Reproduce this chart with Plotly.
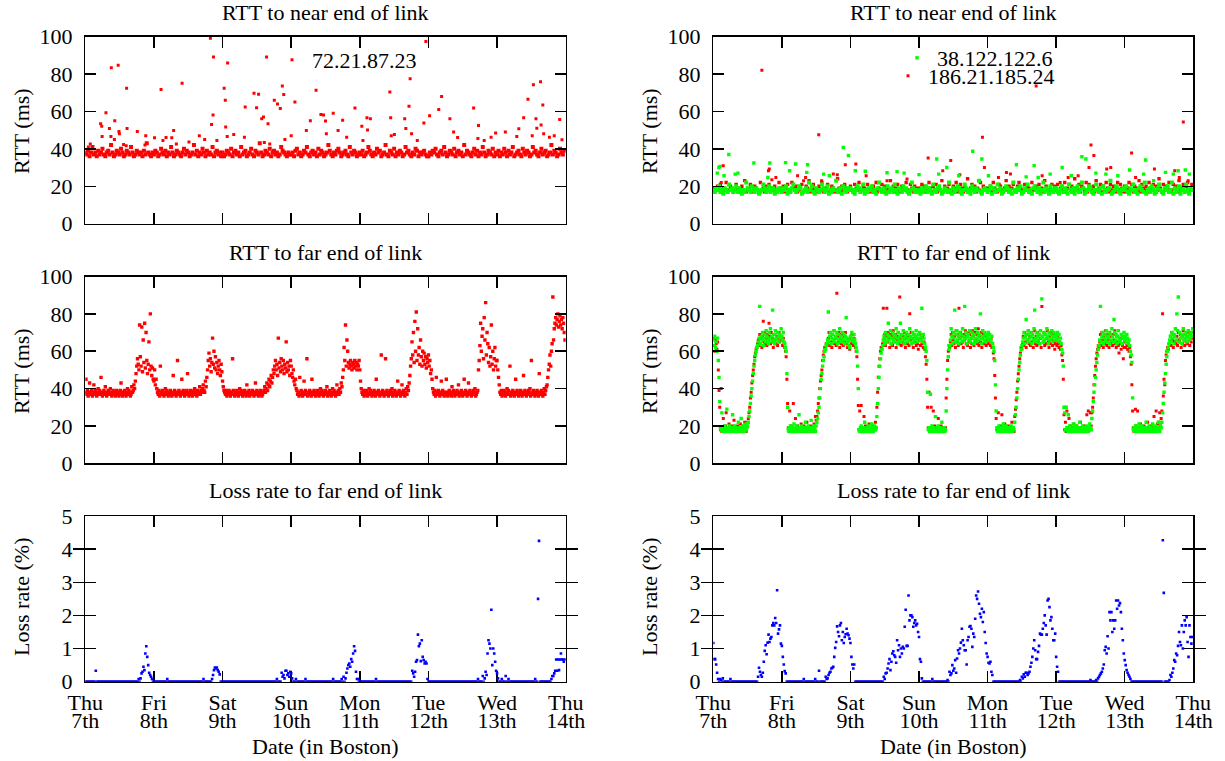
import plotly.graph_objects as go

W, H = 1225, 761
FONT = "Liberation Serif, Times New Roman, Times, serif"

# ------------------------------------------------------------------ data
DAY_TICKS_H = [0, 24, 48, 72, 96, 120, 144, 168]
DAY_NAMES = ["Thu", "Fri", "Sat", "Sun", "Mon", "Tue", "Wed", "Thu"]
DAY_DATES = ["7th", "8th", "9th", "10th", "11th", "12th", "13th", "14th"]

NEAR_STEP_H = 0.5      # sampling interval (hours) of the near-end RTT series
FAR_STEP_H = 0.25      # far-end RTT series
LOSS_STEP_H = 1 / 3    # loss-rate series

# RTT to near end, 72.21.87.23 (ms), one row per day
near_left_band = [
    [38,37,39,36,38,41,37,38,36,39,37,38,40,37,36,38,39,37,42,38,36,37,39,38,37,40,38,36,37,39,38,37,41,38,36,37,39,38,37,38,36,39,37,43,38,37,36,38],
    [37,39,38,36,37,40,38,37,39,36,38,37,41,38,36,37,39,38,37,36,38,40,37,39,38,36,37,38,42,37,39,36,38,37,40,38,36,39,37,38,37,41,36,38,39,37,38,36],
    [38,36,37,39,38,37,40,36,38,39,37,38,36,41,37,38,39,36,37,38,40,37,36,39,38,37,43,38,36,37,39,38,37,40,36,38,39,37,38,36,37,41,39,38,37,36,38,37],
    [37,38,36,39,40,37,38,36,37,39,38,41,37,36,38,39,37,38,36,40,37,39,38,36,37,38,42,39,37,36,38,37,39,40,38,36,37,38,39,37,36,41,38,37,39,38,36,37],
    [38,37,39,36,37,38,41,39,37,36,38,37,40,38,39,36,37,38,42,37,36,39,38,37,40,36,38,37,39,38,36,37,41,38,39,37,36,38,37,40,39,36,38,37,38,39,37,36],
    [36,38,37,39,38,40,37,36,38,39,37,41,38,36,37,39,38,37,40,36,38,39,37,38,36,42,37,39,38,37,36,38,40,37,39,36,38,37,41,38,36,37,39,38,37,40,36,38],
    [37,39,36,38,37,40,38,36,39,37,38,41,36,37,38,39,37,36,40,38,37,39,38,36,37,41,38,39,37,36,38,40,37,38,39,36,37,38,42,37,39,38,36,37,40,38,37,39],
]
# (hour, ms) isolated high samples
near_left_spikes = [
    (1.07,41),(1.74,42.6),(5.35,53.4),(5.75,52),(5.89,46.6),(7.22,59.3),(8.43,50.9),(9.10,83.3),(8.96,46.6),(10.30,55),
    (10.17,45),(11.5,84.6),(11.77,49.3),(11.91,48),(13.38,42.3),(14.45,72.4),(14.6,50.9),(14.3,41.6),(18.19,49.3),(21.14,47),
    (20.87,42),(24.21,45.9),(26.49,71.7),(27.16,44.4),(28.23,46),(30.23,45.9),(30.90,49.8),(31.84,42.6),(33.85,75),(36.25,43.7),
    (39.87,47),(41.74,45),(43.75,99),(44.15,53),(44.68,58),(44.82,89),(46.02,44.4),(48.56,72.4),(48.96,66),(49.10,51.6),
    (49.77,85.8),(49.63,46.6),(51.91,47.7),(55.92,62.4),(55.65,46.2),(59.0,69.7),(60.6,69.2),(59.9,62),(61.7,56),(62.3,57),
    (63.4,89),(63.9,53.4),(64.5,42.6),(62.6,43.4),(66.1,66),(67.2,64),(68.2,61.6),(68.9,73.5),(69.4,69),(69.8,45),
    (72.0,47),(73.3,65),(77.3,49.8),(78.7,55),(80.7,71.3),(82.4,58.4),(83.3,58),(84.0,54.8),(84.3,48),(86.7,59),
    (88.4,49.8),(90.0,55.2),(91.4,46.2),(94.3,61.8),(96.7,52),(98.5,56.6),(99.7,56),(98.7,50),(97.1,44.4),(106.5,70.4),
    (106.8,56.6),(107.0,47),(108.1,47.7),(111.7,56),(112.1,50.9),(113.2,62.7),(113.6,77.4),(114.1,48),(116.1,44.4),(118.4,53.8),
    (119.1,97.3),(120.4,57.7),(123.6,61),(124.6,68),(127.5,56),(128.8,49),(130.2,46),(135.8,61.8),(137.5,52.5),(137.3,45.5),
    (139.5,44.4),(141.9,46.2),(143.5,48.4),(146.9,49),(150.9,46.6),(151.6,50.7),(153.3,56.6),(154.8,66.5),(156.3,47),(156.7,74.2),
    (157.6,56),(157.9,51),(159.2,75.8),(160.0,63.4),(159.4,52.7),(160.3,48),(162.3,46.2),(164.0,47),(165.9,55.7),(166.7,44.8),
]

# RTT to near end, 38.122.122.6 (green)
near_right_green_band = [
    [18,17,19,18,20,17,18,16,19,18,17,21,18,19,17,18,20,17,19,18,16,18,17,22,19,18,17,20,18,17,19,18,16,17,18,21,19,17,18,20,17,18,19,16,18,17,19,18],
    [17,19,18,20,16,18,17,19,21,18,17,18,20,19,16,17,18,19,17,22,18,20,17,16,19,18,17,18,21,19,17,18,20,16,18,17,19,18,23,17,18,19,16,20,18,17,19,18],
    [19,18,17,16,18,20,19,17,18,21,16,18,17,19,18,20,17,18,16,19,22,18,17,19,18,16,20,17,18,19,17,21,18,16,19,18,17,20,18,19,17,16,18,22,19,17,18,17],
    [18,16,19,17,18,20,17,19,18,16,21,18,17,19,20,18,16,17,19,18,17,22,18,16,19,17,18,20,19,17,16,18,21,19,17,18,16,20,18,17,19,18,23,17,16,18,19,18],
    [17,18,20,16,19,18,17,21,18,19,16,17,18,20,19,17,18,16,22,18,17,19,18,20,16,17,19,18,21,17,18,16,19,20,18,17,19,16,18,22,17,19,18,16,20,18,17,19],
    [19,17,16,18,20,17,19,18,16,21,18,17,19,16,18,20,17,18,22,19,16,17,18,20,19,17,16,18,21,18,17,19,16,20,18,17,18,19,23,16,17,18,20,19,17,16,18,19],
    [18,20,17,16,19,18,21,17,18,16,19,20,18,17,22,16,18,19,17,20,18,16,17,19,21,18,17,16,19,18,20,17,18,22,16,19,17,18,20,16,18,19,17,21,18,16,19,18],
]
near_right_green_spikes = [
    (1.39,27),(1.95,30),(2.37,30.6),(3.76,25.6),(5.43,37),(7.66,26.5),(8.63,27),(14.2,32.4),(19.1,24.7),(19.8,32.4),
    (25.3,32.6),(26.7,28.3),(28.8,31.9),(33.0,31.5),(32.7,27.4),(38.6,26.5),(40.6,25.6),(45.5,40.7),(47.3,36.4),(49.7,28.3),
    (53.2,28),(60.8,27.2),(64.3,27.8),(66.8,27),(72.0,26.2),(78.2,34.6),(78.9,26.5),(81.7,30),(85.9,25.6),(90.8,38.7),
    (94.0,34.6),(96.3,25.6),(106.1,31.5),(109.5,25),(112.3,31),(113.7,24.7),(117.9,26.5),(122.1,30),(125.3,25.6),(129.0,35.8),
    (130.4,34.6),(133.9,27),(137.4,26.5),(141.6,25.6),(145.7,28.7),(150.6,26.5),(151.3,34),(154.1,23),(158.3,27.4),(161.0,26.5),
    (162.7,28.3),(165.2,28.7),(166.6,26.5),
]

# RTT to near end, 186.21.185.24 (red)
near_right_red_band = [
    [19,17,18,20,18,21,17,19,18,22,17,18,20,19,17,18,21,18,17,19,20,18,23,17,18,19,21,17,18,20,19,18,17,22,18,19,17,20,18,21,17,19,18,20,17,18,22,19],
    [18,20,17,19,21,18,17,22,19,18,20,17,18,19,21,17,18,20,19,23,17,18,21,19,18,17,20,18,22,17,19,18,21,17,18,20,19,17,18,24,19,17,20,18,21,19,17,18],
    [20,18,17,21,19,18,22,17,18,20,19,17,21,18,17,19,20,18,22,17,19,18,21,17,20,18,19,17,23,18,20,17,19,21,18,17,20,19,18,22,17,18,21,19,17,20,18,19],
    [17,19,21,18,20,17,18,22,19,17,20,18,21,17,19,18,23,17,20,18,19,21,17,18,20,19,22,17,18,21,19,17,20,18,24,17,19,21,18,20,17,19,18,22,17,20,19,18],
    [19,18,20,17,22,19,18,17,21,20,18,17,19,23,18,20,17,19,21,18,17,20,22,19,18,17,21,18,20,19,17,22,18,19,20,17,21,18,19,17,23,20,18,17,19,21,18,20],
    [18,21,17,19,20,18,22,17,19,21,18,20,17,24,19,18,21,17,20,19,18,22,17,21,19,18,20,17,23,18,19,21,17,20,18,22,19,17,21,18,20,19,17,22,18,21,19,17],
    [20,17,19,22,18,21,17,20,19,18,23,17,21,19,18,20,17,22,19,18,21,17,20,18,24,19,17,21,18,20,19,22,17,18,21,19,20,17,23,18,19,21,17,20,22,18,19,21],
]
near_right_red_spikes = [
    (2.78,22),(3.48,31),(17.0,82),(19.3,28.3),(19.6,29.2),(20.5,23.5),(21.9,24.7),(29.5,25.6),(31.6,23),(32.3,24.7),
    (36.9,47.5),(37.9,23),(42.0,26.5),(43.4,26.2),(46.2,31.5),(49.9,31.9),(53.5,25.6),(60.8,23),(67.8,23.9),(75.2,35.1),
    (80.3,28.3),(83.1,33.7),(86.3,26.2),(94.2,46.2),(94.9,30),(99.8,24.7),(102.6,27.4),(104.0,26.5),(113.0,73.5),(115.1,25.6),
    (121.4,22),(124.2,24.7),(127.7,25.6),(131.5,30),(132.2,42),(133.2,36.4),(137.7,29.2),(139.1,30),(146.4,37.8),(147.8,24.7),
    (154.4,29.2),(161.5,28.3),(163.1,24.7),(164.5,54.3),(166.2,23),
]

# RTT to far end, 72.21.87.23 (ms), 15-minute samples, one row per day
far_left = [
    [38,45,37,39,36,38,43,37,38,39,36,37,42,38,39,37,36,38,40,37,39,38,46,37,36,38,39,37,41,38,36,37,39,38,37,40,38,36,37,39,38,37,36,38,39,37,38,36,37,39,43,38,36,37,38,39,37,36,38,40,37,39,38,36,37,41,38,39,42,40,44,
     48,52,56,53,50,74,57,52,73,49,66,54,75,51,70,55,48,53,65,50,80,52,47,51,45],
    [44,50,42,45,40,
     38,37,39,36,52,38,37,39,38,36,37,40,38,39,37,36,38,37,39,38,36,37,47,38,39,37,36,38,55,37,39,38,36,37,45,38,39,37,36,38,37,39,48,38,36,37,39,38,37,36,38,39,40,37,38,36,39,37,38,41,37,39,38,40,42,39,38,44,41,
     46,50,55,59,52,56,49,54,67,53,60,51,57,50,54,48,52,55,50,47,53,49],
    [44,41,39,38,
     37,39,36,38,37,39,38,36,37,38,56,39,37,36,38,37,39,38,36,37,40,38,39,37,36,38,37,39,38,36,42,37,38,39,36,37,38,37,39,38,36,37,43,38,39,37,36,38,37,39,38,36,37,38,
     39,41,38,40,43,39,42,45,41,44,47,43,46,50,
     48,52,55,50,53,47,67,51,54,49,56,52,50,55,48,53,51,65,49,54,50,52,47,55],
    [52,48,46,50,44,42,45,40,
     39,37,38,36,46,37,39,38,36,37,44,38,39,37,56,36,38,37,39,38,36,45,37,38,39,37,36,38,37,39,38,36,37,40,38,39,37,36,38,37,39,38,41,36,37,38,39,37,36,38,40,37,39,38,36,37,42,38,39,37,40,38,43,41,
     46,50,62,55,74,52,66,60,54,51,53,55,52,50,54,53,51,55,52,54,50,53,52,55],
    [50,44,40,
     38,37,39,36,38,37,39,38,36,37,40,38,39,37,36,38,37,39,38,36,45,37,38,39,37,36,38,58,37,39,38,36,37,56,38,39,37,36,38,37,39,38,40,36,37,38,39,37,36,38,44,37,39,38,36,37,42,38,39,37,36,38,40,37,41,39,43,
     47,52,56,65,58,70,54,76,60,81,55,72,58,62,53,66,57,52,60,55,59,53,57,51,56,54],
    [58,52,55,48,50,45,
     40,38,37,39,36,46,38,37,39,38,36,37,44,38,39,37,36,38,37,45,38,36,37,39,38,37,36,41,38,39,37,36,38,37,39,38,42,36,37,38,39,37,36,38,45,37,39,38,36,37,43,38,39,37,36,38,37,39,38,40,36,37,38,39,
     50,55,63,75,60,68,72,56,78,66,86,58,70,64,54,62,52,57,74,53,60,50,56,62,52,55],
    [55,50,46,42,
     38,37,39,36,38,37,39,38,36,37,40,38,39,37,52,36,38,37,39,38,36,37,45,38,39,37,36,38,37,39,38,36,37,47,38,39,37,36,38,37,39,38,40,36,55,37,38,39,37,36,38,37,39,38,36,48,37,38,39,37,36,38,40,37,39,41,
     42,46,50,53,58,52,60,64,89,66,72,75,78,74,77,80,73,76,79,74,77,72,78,75,70,66],
]

# RTT to far end, 38.122.122.6 (green)
far_right_green = [
    [66,63,68,62,65,60,67, 55,46,33,
     19,18,27,17,19,18,20,17,18,29,19,17,18,20,18,17,19,26,18,17,20,18,19,17,18,22,17,19,18,24,17,18,20,19,17,18,21,19,
     20,22,25,28,32,36,40,44,48,52,55,58,60,62,63,
     65,67,84,64,68,66,70,63,67,69,65,71,68,66,64,70,67,72,65,68,82,66,69,64,71,67,66,70,68,65,69,67,72],
    [68,66,70,65,64,62, 60,48,30,
     18,19,17,20,18,17,19,18,21,17,18,19,20,17,18,26,19,17,18,20,18,19,17,18,22,17,19,18,20,17,18,19,23,18,17,19,20,18,17,
     20,22,24,27,30,35,40,45,48,52,55,57,60,61,63,64,
     66,81,65,68,70,64,67,69,66,71,65,68,67,70,64,69,66,72,68,65,67,70,66,69,64,68,78,67,65,66,63,62],
    [68,66,70,67,65,69,66,64,62,60, 52,40,
     18,17,19,20,18,17,19,18,22,17,18,19,17,20,18,19,17,18,21,19,17,18,20,18,19,
     25,32,40,46,52,56,59,61,63,
     66,68,64,70,67,65,69,75,66,68,71,64,67,70,66,69,65,68,72,67,64,70,66,68,75,65,69,67,71,66,64,68,70,65,67,69,66,72,68,64,67,70,65,69,66,68,71,67,65,69],
    [67,70,66,68,83,65,69,67,64,62,60, 55,38,
     18,19,17,37,18,20,17,19,18,17,25,18,19,17,20,18,17,19,18,22,17,18,19,17,18,
     28,40,50,57,61,63,
     66,72,68,64,70,67,82,65,69,71,66,68,64,70,67,69,65,72,68,66,84,67,70,64,68,69,66,71,65,67,70,68,64,69,66,72,67,65,70,68,66,69,80,67,64,71,68,66,70,65,69,67],
    [68,70,66,69,67,65,68,64,62,60, 55,42,28,
     19,17,18,20,18,17,19,18,17,21,19,18,17,20,18,19,17,18,19,17,20,18,17,19,18,
     22,26,30,35,40,45,50,54,58,61,63,
     65,67,70,64,68,77,66,69,71,65,67,70,68,64,69,66,72,82,67,65,70,68,66,69,64,71,67,88,68,65,70,66,69,67,72,68,64,70,66,69,67,71,65,68,70,66,69],
    [68,66,70,67,69,65,67,64,61,59, 52,30,
     27,18,30,19,17,26,18,20,17,19,18,17,21,18,19,17,20,18,17,19,18,22,17,18,19,20,17,18,19,17,18,20,19,17,18,21,19,18,
     24,28,33,38,42,46,50,54,58,61,63,
     66,84,65,68,70,64,67,69,66,71,65,68,67,70,64,69,66,72,68,65,77,70,66,69,64,68,71,67,65,66,69,64,68,67,70],
    [66,68,65,69,67,64,66,63,60,58, 54,35,
     18,19,17,20,18,17,19,18,21,17,18,19,20,17,18,19,17,18,22,19,17,18,20,18,19,17,18,21,17,19,18,20,17,18,19,22,18,17,20,19,
     22,27,32,38,43,48,53,57,60,62,64,
     66,68,65,70,67,69,64,68,72,66,80,71,89,65,70,67,69,64,68,72,66,69,67,70,65,68,71,66,69,67,70,68,72],
]

# RTT to far end, 186.21.185.24 (red)
far_right_red = [
    [67,63,60,66,64,61,65, 50,39,30,
     18,40,17,19,24,18,17,20,27,18,19,17,21,18,17,19,18,20,17,23,18,19,17,18,20,17,19,18,21,17,18,19,17,20,22,18,17,19,
     22,24,27,30,35,38,43,47,50,53,57,59,61,62,64,
     66,63,69,64,67,62,68,76,65,70,64,67,63,69,66,75,68,64,70,65,67,62,69,66,71,64,68,63,67,70,65,68,66],
    [66,63,67,64,62,60, 57,45,32,
     19,17,28,18,20,17,19,32,18,17,24,19,18,20,17,19,18,17,21,18,19,17,20,18,17,19,22,18,17,19,18,20,17,18,19,17,21,18,25,
     23,25,28,32,35,40,44,47,50,55,58,60,62,61,64,63,
     64,67,70,63,68,65,62,69,66,71,64,67,63,91,68,65,70,62,67,64,69,66,63,68,65,70,64,67,62,66,63,61],
    [67,64,69,65,63,67,64,62,60,57, 45,31,
     18,28,17,31,19,18,17,25,18,20,17,19,18,17,21,18,19,17,18,20,17,19,18,22,19,
     30,38,46,52,56,60,62,61,64,
     83,66,69,63,68,83,65,70,67,62,69,64,68,63,71,65,67,69,62,68,66,70,64,89,67,63,69,65,68,64,70,62,67,69,64,68,63,80,66,70,64,67,62,69,65,68,63,67,64,61],
    [66,69,63,67,64,68,62,65,61,57,53, 45,30,
     19,38,17,18,30,19,17,28,18,20,17,19,18,17,24,18,19,17,20,18,17,19,18,17,19,
     35,45,55,60,63,62,
     65,69,63,70,66,64,68,62,71,65,69,63,83,67,70,64,68,65,62,69,66,71,64,68,63,70,65,69,62,67,64,71,68,63,70,65,66,69,64,72,63,68,65,70,62,67,69,64,68,65,63,66],
    [67,64,69,65,63,67,62,64,59,56, 47,35,24,
     18,17,27,19,18,20,17,26,18,19,17,21,18,17,19,18,20,17,19,18,17,22,19,18,17,
     25,29,34,38,44,48,52,56,59,62,61,
     64,68,63,70,65,62,69,66,71,64,68,63,70,65,69,62,67,71,64,68,63,70,65,69,64,67,62,84,68,65,70,63,69,64,67,71,65,62,68,64,70,66,63,69,65,61,64],
    [66,63,68,64,62,65,61,63,58,55, 45,26,
     18,22,17,28,19,18,24,17,20,18,19,17,18,21,17,19,18,20,17,18,19,17,22,18,19,17,18,20,17,19,18,26,17,28,19,18,27,20,
     27,30,35,42,47,52,56,59,61,63,62,
     65,69,63,70,66,62,68,64,71,65,63,69,66,62,70,64,68,65,63,69,66,71,64,62,68,65,63,59,67,64,61,67,63,56,62],
    [65,62,67,63,61,64,60,62,57,53, 42,28,
     19,17,18,29,20,17,28,18,19,17,21,18,17,19,18,20,17,18,19,17,22,18,19,17,18,20,17,19,18,25,17,19,28,18,21,19,22,27,20,24,
     28,80,36,45,42,55,58,60,62,61,64,
     64,68,63,70,66,62,69,65,72,64,68,63,70,66,65,69,62,68,64,71,66,63,69,65,68,64,70,66,63,69,65,67,70],
]

# Loss rate to far end (%), 20-minute samples, one row per day
loss_left = [
    [0,0,0,0,0,0,0,0,0,0,0, 0.33, 0,0,0,0,0,0,0,0,0,0,0,0,0,0,0,0,0,0,0,0,0,0,0,0,0,0,0,0,0,0,0,0,0,0,0,0,0,0,0,0,0,0,0,0,
     0.08,0,0.1,0.25,0.3,0.45,0.35,0.85,1.07,0.75,0.5,0.27,0.2,0.15,0.08,0],
    [0,0,0,0,0,0,0,0,0,0,0,0,0,0, 0.08, 0,0,0,0,0,0,0,0,0,0,0,0,0,0,0,0,0,0,0,0,0,0,0,0,0,0,0,0,0,0,0,0,0,0,0,0,0, 0.08,
     0,0,0,0,0,0,0,0, 0.08,0.2,0.35,0.43,0.4,0.43,0.35,0.3,0.22,0,0],
    [0,0,0,0,0,0,0,0,0,0,0,0,0,0,0,0,0,0,0,0,0,0,0,0,0,0,0,0,0,0,0,0,0,0,0,0,0,0,0,0,0,0,0,0,0,0,0,0,0,0,0,0,0,0,0,0,0, 0.08,
     0,0,0,0, 0.27,0.15,0.2,0.1,0.33,0.33,0.2,0.25,0.15,0.3],
    [0.25,0.1, 0,0,0, 0.08, 0,0,0,0,0,0,0,0,0, 0.08, 0,0,0,0,0,0,0,0,0,0,0,0,0,0,0,0,0,0,0,0,0,0,0,0,0,0,0,0, 0.08,
     0,0,0,0,0,0,0,0, 0.08,0,0.15,0,0.1,0.27,0.4,0.5,0.55,0.45,0.68,0.6,0.85,1.07,0.93,0.3,0.08,0.08,0],
    [0,0,0,0,0,0,0,0,0,0,0,0,0,0,0,0,0, 0.08, 0,0,0,0,0,0,0,0,0,0,0,0,0,0,0,0,0,0,0,0,0,0,0,0,0,0,0,0,0,0,0,0,0,0,0,0,0,
     0.33,0.25,0.15,0.3,0.6,0.65,1.42,1.07,1.15,0.62,1.25,0.75,0.65,0.55,0.6,0.55,0.08],
    [0,0,0,0,0,0,0,0,0,0,0,0,0,0,0,0,0,0,0,0,0,0,0,0,0,0,0,0,0,0,0,0,0,0,0,0,0,0,0,0,0,0,0,0,0,0,0,0,0,0,0,0, 0.08, 0,0,0,0,
     0.17,0,0.1,0.3,0.2,0.85,1.25,1.15,1.0,2.17,0.5,1.0,0.85,0.6,0.33],
    [0.25,0.1, 0,0,0, 0.08, 0,0,0, 0.17, 0,0, 0.08, 0,0,0,0,0,0,0,0,0,0,0,0,0,0,0,0,0,0,0,0,0,0,0,0,0,0,0, 0.08, 0,0, 2.5,4.25,
     0,0,0,0,0,0,0,0,0,0,0,0, 0.08,0.17,0.17,0.25,0.33,0.67,0.33,0.67,0.35,0.67,0.85,0.67,0.67,0.6,0.67],
]

loss_right = [
    [1.17,0.68,0.68,0.52,0.27,0.08,0,0.08,0.05,0,0.1, 0,0,0,0,0,0,0, 0.08,
     0,0,0,0,0,0,0,0,0,0,0,0,0,0,0,0,0,0,0,0,0,0,0,0,0,0,0,0,
     0.15,0.42,0.3,0.2,0.15,0.27,0.6,0.93,1.1,0.83,1.18,1.42,1.2,1.3,1.35,1.7,1.77,1.7,1.92,1.77,2.76,1.45,1.58,1.7,1.15],
    [1.08,0.75,0.52,0.32,0.25, 0,0,0,0,0,0,0,0,0,0,0,0,0,0,0,0,0,0, 0.08, 0,0,0,0,0,0,0,0,0,0,0, 0.08, 0,0,0, 0.33, 0,0,0,0,0,0,
     0.15,0.08,0.1,0.2,0.27,0.3,0.4,0.42,0.45,0.75,1.02,1.2,1.67,1.5,1.37,1.7,1.77,1.25,1.5,1.17,1.35,1.43,1.6,1.45,1.4,1.3],
    [1.17,0.75,0.52,0.4,0.52, 0,0,0,0,0,0,0,0,0,0,0,0,0,0,0,0,0,0,0,0,0,0,0,0,0,0,0,0,0,0,
     0.15,0.08,0.25,0.27,0.4,0.55,0.68,0.35,0.6,0.85,0.92,0.8,0.75,0.57,1.25,0.95,1.1,0.75,1.0,0.85,1.05,1.0,1.66,2.17,1.08,1.08,2.6,1.85,2.0,2.0,1.95,1.66,1.77,1.85,1.7,1.75,1.5],
    [1.35,0.68,0.6,0.1, 0,0,0,0,0,0,0,0,0,0, 0.08, 0,0,0,0,0,0,0,0,0,0,0,0,0,0,0,
     0.05,0,0.3,0.2,0.25,0.5,0.33,0.4,0.65,0.27,0.7,0.95,0.85,1.0,1.18,1.6,1.25,1.1,0.95,0.95,0.52,1.25,1.35,1.66,1.68,1.6,1.05,1.45,1.35,1.9,2.6,2.5,2.72,2.35,2.05,1.95,2.2,1.8,2.1,1.5,1.17,0.85],
    [0.75,0.57,0.55,0.6,0.3,0.2, 0,0,0,0,0,0,0,0,0,0,0,0,0,0,0,0,0,0,0,0,0,0,0,0,0,0,0,0,
     0.05,0,0.15,0.1,0.22,0.15,0.27,0.27,0.2,0.25,0.3,0.45,0.57,0.75,1.0,1.25,0.95,0.68,0.68,0.9,1.08,1.45,1.42,1.42,1.6,1.77,2.0,1.7,1.42,2.45,2.5,2.25,1.85,1.95,1.6,1.25,1.25,1.45],
    [0.75,0.45,0.3, 0,0,0,0,0,0,0,0,0,0,0,0,0,0,0,0,0,0,0,0,0,0,0,0,0,0,0,0,0,0,0,0,0, 0.05, 0,0,0,0,0,
     0.05,0,0.1,0.15,0.2,0.25,0.3,0.4,0.52,0.95,1.05,0.85,1.37,1.0,2.1,1.85,2.1,1.5,1.85,1.6,1.85,2.45,2.2,2.45,2.3,2.37,2.1,1.6,1.25,0.85],
    [0.65,0.5,0.35,0.27,0.2,0.15,0.08, 0,0,0,0,0,0,0,0,0,0,0,0,0,0,0,0,0,0,0,0,0,0,0,0,0,0,0,0,0,0,0,0,0, 4.27,2.68, 0,0,0,0,0,
     0.05,0.2,0.15,0.27,0.4,0.65,0.6,0.85,0.8,1.08,1.5,1.2,1.1,1.7,1.0,1.5,1.85,1.7,1.95,1.2,0.75,1.7,1.35,1.15,1.35],
]


# ------------------------------------------------------------------ helpers
def expand(days, step_h):
    t, v = [], []
    for d, row in enumerate(days):
        for i, val in enumerate(row):
            t.append(24 * d + i * step_h)
            v.append(val)
    return t, v


def split(spikes):
    return [s[0] for s in spikes], [s[1] for s in spikes]


RED = "#ff0000"
GREEN = "#00ff00"
BLUE = "#0000ff"

fig = go.Figure()


def scatter(t, v, xa, ya, color, size, name=None, legend=None, opacity=1):
    fig.add_trace(go.Scatter(
        x=t, y=v, xaxis=xa, yaxis=ya, mode="markers",
        marker=dict(color=color, size=size, symbol="square", line=dict(width=0),
                    opacity=opacity),
        name=name or "", showlegend=legend is not None,
        legend=legend or "legend", hoverinfo="skip",
    ))


t, v = expand(near_left_band, NEAR_STEP_H)
scatter(t, v, "x", "y", RED, 4.0)
t, v = split(near_left_spikes)
scatter(t, v, "x", "y", RED, 3.0, "72.21.87.23", "legend")

t, v = expand(near_right_red_band, NEAR_STEP_H)
scatter(t, v, "x2", "y2", RED, 3.4)
t, v = split(near_right_red_spikes)
scatter(t, v, "x2", "y2", RED, 3.0, "186.21.185.24", "legend3")
t, v = expand(near_right_green_band, NEAR_STEP_H)
scatter(t, v, "x2", "y2", GREEN, 4.0)
t, v = split(near_right_green_spikes)
scatter(t, v, "x2", "y2", GREEN, 3.4, "38.122.122.6", "legend2")

t, v = expand(far_left, FAR_STEP_H)
scatter(t, v, "x3", "y3", RED, 3.4)
t, v = expand(far_right_red, FAR_STEP_H)
scatter(t, v, "x4", "y4", RED, 3.0)
t, v = expand(far_right_green, FAR_STEP_H)
scatter(t, v, "x4", "y4", GREEN, 3.4)

t, v = expand(loss_left, LOSS_STEP_H)
scatter(t, v, "x5", "y5", BLUE, 2.6)
scatter(t, v, "x7", "y5", BLUE, 2.6, opacity=0)   # carries the date-label axis
t, v = expand(loss_right, LOSS_STEP_H)
scatter(t, v, "x6", "y6", BLUE, 2.6)
scatter(t, v, "x8", "y6", BLUE, 2.6, opacity=0)


# ------------------------------------------------------------------ layout
# positions below are given in window pixels
def fx(p):
    return p / W


def fy(p):
    return 1 - p / H


XL = [fx(85.3), fx(565.7)]
XR = [fx(713.3), fx(1193.3)]
ROWS = [[fy(223.7), fy(36.5)], [fy(463.3), fy(276.5)], [fy(681.7), fy(516)]]

TICKFONT = dict(family=FONT, size=22, color="black")
common = dict(showline=True, linecolor="black", linewidth=1.5, mirror="allticks",
              ticks="inside", ticklen=11, tickwidth=1.5, tickcolor="black",
              showgrid=False, zeroline=False, tickfont=TICKFONT, automargin=False)

lay = {}
for i in range(6):
    n = i + 1
    key = "" if n == 1 else str(n)
    row = i // 2
    col = i % 2
    xa = dict(common, domain=XL if col == 0 else XR, anchor="y" + key,
              range=[0, 168], tickmode="array", tickvals=DAY_TICKS_H,
              showticklabels=(row == 2))
    if row == 2:
        xa.update(ticktext=DAY_NAMES, ticklabelstandoff=0)
    ya = dict(common, domain=ROWS[row], anchor="x" + key, ticklabelstandoff=7)
    if row < 2:
        ya.update(range=[0, 100], tickvals=[0, 20, 40, 60, 80, 100])
    else:
        ya.update(range=[0, 5], tickvals=[0, 1, 2, 3, 4, 5], layer="below traces")
        xa.update(layer="below traces")
    lay["xaxis" + key] = xa
    lay["yaxis" + key] = ya

for n, base in ((7, "x5"), (8, "x6")):
    lay["xaxis%d" % n] = dict(overlaying=base, anchor="y" + base[1:], side="bottom",
                             range=[0, 168], tickmode="array", tickvals=DAY_TICKS_H,
                             ticktext=DAY_DATES, showline=False, ticks="",
                             showgrid=False, zeroline=False, tickfont=TICKFONT,
                             ticklabelstandoff=23, automargin=False)

ann = []


def text(s, x, y, angle=0):
    ann.append(dict(text=s, x=fx(x), y=fy(y), xref="paper", yref="paper",
                    showarrow=False, xanchor="center", yanchor="middle",
                    textangle=angle, font=dict(family=FONT, size=22, color="black")))


cl = (85.3 + 565.7) / 2
cr = (713.3 + 1193.3) / 2
for cx in (cl, cr):
    text("RTT to near end of link", cx, 13)
    text("RTT to far end of link", cx, 252)
    text("Loss rate to far end of link", cx, 491)
    text("Date (in Boston)", cx, 746)
for yx in (21, 649):
    text("RTT (ms)", yx, 131, -90)
    text("RTT (ms)", yx, 371, -90)
    text("Loss rate (%)", yx, 597, -90)

LEGFONT = dict(family=FONT, size=22, color="black")
legend_common = dict(xanchor="left", yanchor="middle", bgcolor="rgba(0,0,0,0)",
                     borderwidth=0, font=LEGFONT, itemwidth=30)

fig.update_layout(
    width=W, height=H, autosize=False,
    margin=dict(l=0, r=0, t=0, b=0, pad=0, autoexpand=False),
    paper_bgcolor="white", plot_bgcolor="white",
    annotations=ann,
    legend=dict(legend_common, x=fx(272), y=fy(60)),
    legend2=dict(legend_common, x=fx(897), y=fy(58)),
    legend3=dict(legend_common, x=fx(888), y=fy(76)),
    **lay,
)

# place the figure at the window's top-left corner (no default page margin)
fig.write_html(
    "out.html",
    config={"displayModeBar": False, "staticPlot": True},
    post_script="document.body.style.margin='0px';"
                "document.body.style.padding='0px';"
                "document.body.style.overflow='hidden';",
)
